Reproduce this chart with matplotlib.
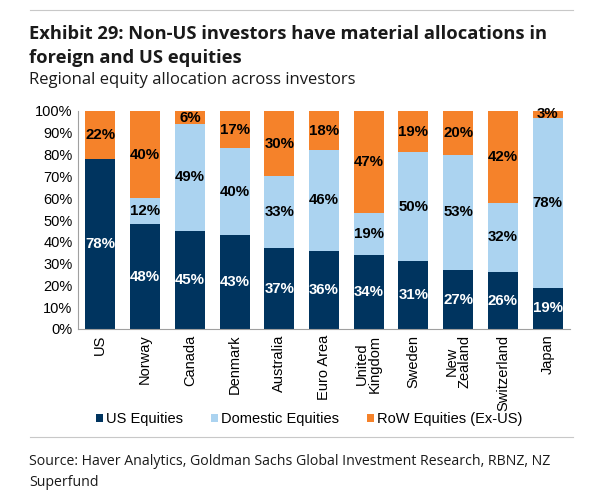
import matplotlib.pyplot as plt
import numpy as np

# ---------------------------------------------------------------------------
# Data (in %)
# ---------------------------------------------------------------------------
countries = ['US', 'Norway', 'Canada', 'Denmark', 'Australia', 'Euro Area',
             'United\nKingdom', 'Sweden', 'New\nZealand', 'Switzerland', 'Japan']
us_eq = [78, 48, 45, 43, 37, 36, 34, 31, 27, 26, 19]
domestic_eq = [0, 12, 49, 40, 33, 46, 19, 50, 53, 32, 78]
row_eq = [22, 40, 6, 17, 30, 18, 47, 19, 20, 42, 3]
series_names = ['US Equities', 'Domestic Equities', 'RoW Equities (Ex-US)']
yticks = [0, 10, 20, 30, 40, 50, 60, 70, 80, 90, 100]

NAVY = '#00345f'
LIGHT = '#abd3f0'
ORANGE = '#f5822a'
GRID_GREY = '#c8c8c8'
TXT = '#1a1a1a'

fig = plt.figure(figsize=(5.92, 5.0), dpi=100)
W, H = 592, 500

# ---- header ---------------------------------------------------------------
fig.add_artist(plt.Line2D([30 / W, 573 / W], [1 - 10 / H, 1 - 10 / H],
                          color=GRID_GREY, linewidth=0.8))
fig.text(29 / W, 1 - 39 / H,
         'Exhibit 29: Non-US investors have material allocations in',
         fontsize=13.2, fontweight='bold', family='Open Sans', color=TXT)
fig.text(29 / W, 1 - 63 / H, 'foreign and US equities',
         fontsize=13.2, fontweight='bold', family='Open Sans', color=TXT)
fig.text(29 / W, 1 - 84 / H, 'Regional equity allocation across investors',
         fontsize=12, family='Open Sans', color=TXT)

# ---- chart ----------------------------------------------------------------
ax = fig.add_axes([78 / W, 1 - 329 / H, (570 - 78) / W, (329 - 111) / H])
x = np.arange(len(countries))
us = np.array(us_eq)
dom = np.array(domestic_eq)
row = np.array(row_eq)
bw = 0.67

ax.bar(x, us, bw, color=NAVY, label=series_names[0])
ax.bar(x, dom, bw, bottom=us, color=LIGHT, label=series_names[1])
ax.bar(x, row, bw, bottom=us + dom, color=ORANGE, label=series_names[2])

lab_kw = dict(ha='center', va='center', fontsize=10.8, fontweight='bold',
              family='Liberation Sans')
for i in range(len(countries)):
    ax.text(x[i], us[i] / 2, f'{us[i]}%', color='white', **lab_kw)
    if dom[i] > 0:
        ax.text(x[i], us[i] + dom[i] / 2, f'{dom[i]}%', color='black', **lab_kw)
    ax.text(x[i], us[i] + dom[i] + row[i] / 2, f'{row[i]}%', color='black', **lab_kw)

ax.set_xlim(-0.5, len(countries) - 0.5)
ax.set_ylim(0, 100)
ax.set_yticks(yticks)
ax.set_yticklabels([f'{t}%' for t in yticks], family='Liberation Sans', fontsize=10.5)
ax.set_xticks(x)
ax.set_xticklabels(countries, rotation=90, family='Liberation Sans', fontsize=10.5,
                   linespacing=0.9)
ax.tick_params(axis='both', length=0, pad=4)
for side in ['top', 'right']:
    ax.spines[side].set_visible(False)
for side in ['left', 'bottom']:
    ax.spines[side].set_color('#a0a0a0')
    ax.spines[side].set_linewidth(0.8)

ax.legend(loc='upper center', bbox_to_anchor=(0.47, -0.32), ncol=3,
          frameon=False, prop={'family': 'Liberation Sans', 'size': 10.5},
          handlelength=0.5, handleheight=0.5, handletextpad=0.2,
          columnspacing=1.9)

# ---- footer ---------------------------------------------------------------
fig.add_artist(plt.Line2D([30 / W, 573 / W], [1 - 437 / H, 1 - 437 / H],
                          color=GRID_GREY, linewidth=0.8))
fig.text(29 / W, 1 - 465 / H,
         'Source: Haver Analytics, Goldman Sachs Global Investment Research, RBNZ, NZ',
         fontsize=10.2, family='Open Sans', color=TXT)
fig.text(29 / W, 1 - 486 / H, 'Superfund',
         fontsize=10.2, family='Open Sans', color=TXT)

fig.savefig('out.png', dpi=100)
